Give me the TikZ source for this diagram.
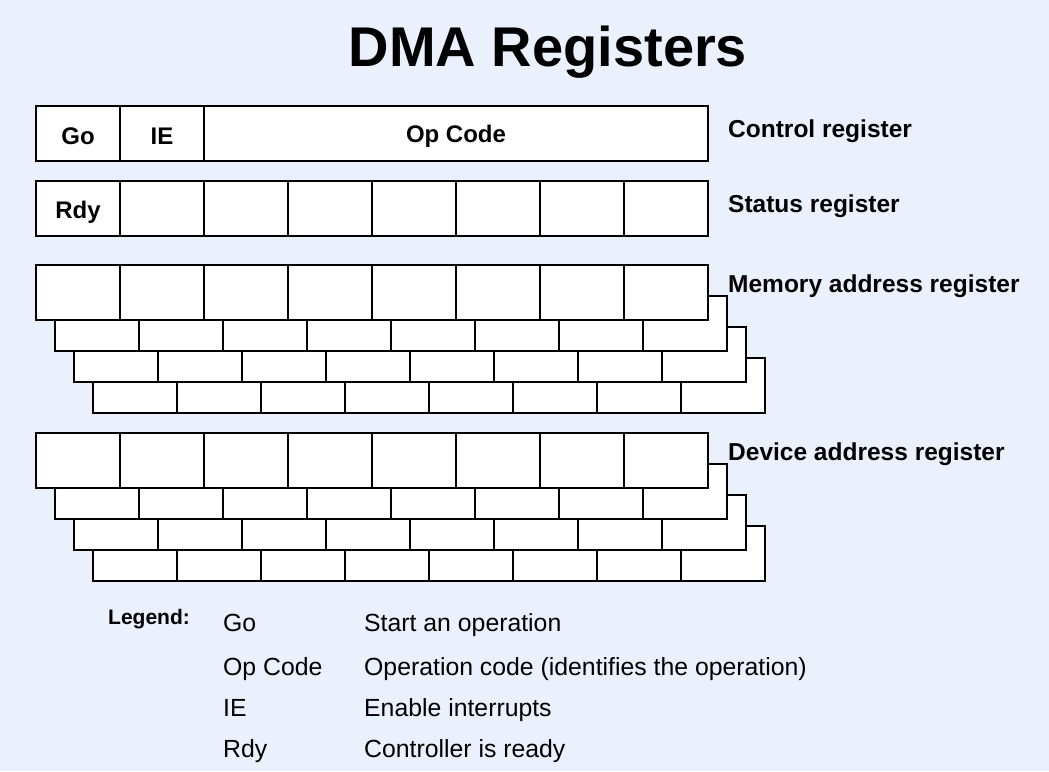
\documentclass[tikz,border=0pt]{standalone}
\usepackage{fontspec}
\setmainfont{Liberation Sans}
\usetikzlibrary{positioning}
\definecolor{pagebg}{HTML}{EAF1FD}
\tikzset{
  cell/.style={draw, line width=2pt, fill=white, minimum width=84pt, minimum height=55pt, inner sep=0pt, anchor=north west, font=\bfseries\fontsize{24}{28}\selectfont},
  celltext/.style={inner sep=0pt, font=\bfseries\fontsize{24}{28}\selectfont},
  reglabel/.style={anchor=west, inner sep=0pt, font=\bfseries\fontsize{24.5}{28}\selectfont},
  legtext/.style={anchor=west, inner sep=0pt, font=\fontsize{24.8}{29}\selectfont}
}
\begin{document}
\begin{tikzpicture}[x=1pt,y=-1pt]
  \fill[pagebg] (0,0) rectangle (1049,771);
  \useasboundingbox (0,0) rectangle (1049,771);

  \node[inner sep=0pt, font=\bfseries\fontsize{56}{60}\selectfont] (title) at (548,52) {DMA Registers};

  % Control register
  \node[cell] (go) at (35,105) {};
  \node[cell] (ie) at (119,105) {};
  \node[cell, minimum width=504pt] (op) at (203,105) {};
  \node[celltext] at ([yshift=-3pt]go) {Go};
  \node[celltext] at ([yshift=-3pt]ie) {IE};
  \node[celltext] at ([yshift=-3pt]op) {Op Code};
  \node[reglabel] (ctrl) at (728,131) {Control register};

  % Status register
  \foreach \i in {0,...,7} {
    \node[cell] (st\i) at (35+84*\i,180) {};
  }
  \node[celltext] at ([yshift=-4pt]st0) {Rdy};
  \node[reglabel] (stat) at (728,206) {Status register};

  % Stacked registers: memory and device address
  \foreach \nm/\y in {mem/264,dev/432} {
    \foreach \k in {3,2,1,0} {
      \foreach \i in {0,...,7} {
        \node[cell] (\nm\k\i) at (35+19*\k+84*\i,\y+31*\k) {};
      }
    }
  }
  \node[reglabel] (memlab) at (728,286) {Memory address register};
  \node[reglabel] (devlab) at (728,454) {Device address register};

  % Legend
  \node[anchor=west, inner sep=0pt, font=\bfseries\fontsize{21}{24}\selectfont] (leg) at (108,619) {Legend:};
  \foreach \n/\a/\b/\y in {1/Go/Start an operation/625, 2/Op Code/Operation code (identifies the operation)/669, 3/IE/Enable interrupts/710, 4/Rdy/Controller is ready/751} {
    \node[legtext] (key\n) at (223,\y) {\vphantom{Op}\a};
    \node[legtext] (desc\n) at (364,\y) {\vphantom{Op}\b};
  }
\end{tikzpicture}
\end{document}
